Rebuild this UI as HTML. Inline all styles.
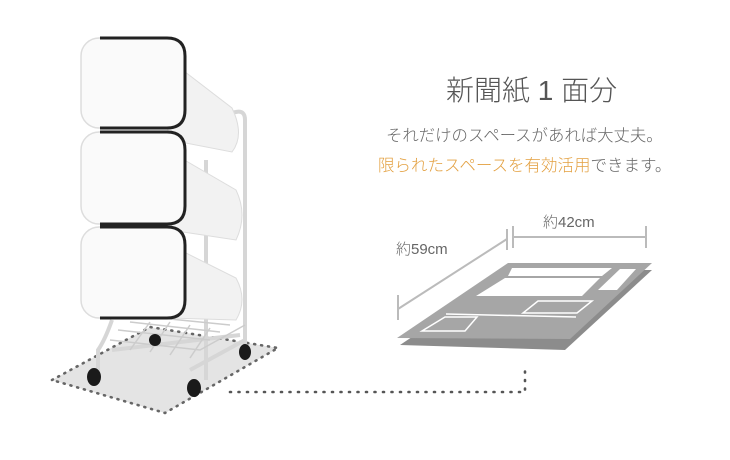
<!DOCTYPE html>
<html><head><meta charset="utf-8"><style>
html,body{margin:0;padding:0;background:#fff;}
body{width:730px;height:460px;overflow:hidden;position:relative;font-family:"Liberation Sans","Noto Sans CJK JP",sans-serif;}
.t{position:absolute;white-space:nowrap;color:#666;font-weight:300;}
</style></head><body>
<svg width="730" height="460" style="position:absolute;left:0;top:0">
  <!-- floor -->
  <polygon points="52,380 150,327 278,348 165,413" fill="#e4e4e4" stroke="#666" stroke-width="2.6" stroke-dasharray="1 6" stroke-linecap="round"/>
  <polyline points="230,392 525,392 525,365" fill="none" stroke="#555" stroke-width="2.6" stroke-dasharray="1 7.5" stroke-linecap="round"/>
  <!-- frame -->
  <g stroke="#d6d6d6" stroke-width="4" fill="none">
    <path d="M245,345 L245,120 Q245,110 236,112 L205,118"/>
    <path d="M206,380 L206,160"/>
    <path d="M112,320 Q105,340 98,350 L98,375"/>
    <path d="M112,350 L240,335 M190,370 L245,340"/>
  </g>
  <g stroke="#ccc" stroke-width="1.5" fill="none">
    <path d="M110,340 L200,350 L245,325 M118,330 L210,340 M130,322 L220,332 M140,316 L230,325"/>
    <path d="M130,350 L150,322 M150,352 L170,322 M170,355 L190,325 M190,358 L210,328"/>
  </g>
  <!-- bodies -->
  <g fill="#f2f2f2" stroke="#ddd" stroke-width="1">
    <path d="M150,45 L232,108 Q245,135 232,152 L170,140 Z"/>
    <path d="M150,140 L236,190 Q248,215 236,240 L170,230 Z"/>
    <path d="M150,235 L236,278 Q248,300 236,320 L170,318 Z"/>
  </g>
  <!-- lids -->
  <g fill="#fafafa" stroke="#ddd" stroke-width="1.5">
    <rect x="81" y="38" width="104" height="90" rx="18"/>
    <rect x="81" y="132" width="104" height="92" rx="18"/>
    <rect x="81" y="227" width="104" height="91" rx="18"/>
  </g>
  <g fill="none" stroke="#222" stroke-width="3">
    <path d="M100,38 L167,38 Q185,38 185,56 L185,110 Q185,128 167,128 L100,128"/>
    <path d="M100,132 L167,132 Q185,132 185,150 L185,206 Q185,224 167,224 L100,224"/>
    <path d="M100,227 L167,227 Q185,227 185,245 L185,300 Q185,318 167,318 L100,318"/>
  </g>
  <!-- wheels -->
  <g fill="#1a1a1a">
    <ellipse cx="94" cy="377" rx="7" ry="9"/>
    <ellipse cx="194" cy="388" rx="7" ry="9"/>
    <ellipse cx="245" cy="352" rx="6" ry="8"/>
    <ellipse cx="155" cy="340" rx="6" ry="6"/>
  </g>
  <!-- newspaper -->
  <polygon points="512,270 652,270 565,350 400,345" fill="#8c8c8c"/>
  <polygon points="508,263 652,263 570,339 397,338" fill="#a6a6a6"/>
  <polygon points="512,268 612,268 602,276 508,276" fill="#fff"/>
  <polygon points="505,278 600,278 582,296 476,296" fill="#fff"/>
  <polygon points="620,269 636,269 617,290 598,290" fill="#fff"/>
  <polygon points="538,301 592,301 577,313 523,313" fill="none" stroke="#fff" stroke-width="1.5"/>
  <polygon points="445,317 477,317 465,331 422,331" fill="none" stroke="#fff" stroke-width="1.5"/>
  <line x1="446" y1="314" x2="576" y2="317" stroke="#fff" stroke-width="1.5"/>
  <!-- dimension lines -->
  <g stroke="#bbb" stroke-width="2" fill="none">
    <line x1="513" y1="237" x2="646" y2="237"/>
    <line x1="513" y1="226" x2="513" y2="248"/>
    <line x1="646" y1="226" x2="646" y2="248"/>
    <line x1="398" y1="309" x2="507" y2="239"/>
    <line x1="398" y1="295" x2="398" y2="320"/>
    <line x1="507" y1="229" x2="507" y2="250"/>
  </g>
</svg>
<div class="t" style="left:446px;top:69px;font-size:28px;color:#555;">新聞紙 1 面分</div>
<div class="t" style="left:386px;top:122px;font-size:16.4px;">それだけのスペースがあれば大丈夫。</div>
<div class="t" style="left:378px;top:152px;font-size:16.5px;"><span style="color:#e3a040">限られたスペースを有効活用</span>できます。</div>
<div class="t" style="left:543px;top:211px;font-size:15px;">約42cm</div>
<div class="t" style="left:396px;top:238px;font-size:15px;">約59cm</div>
</body></html>
